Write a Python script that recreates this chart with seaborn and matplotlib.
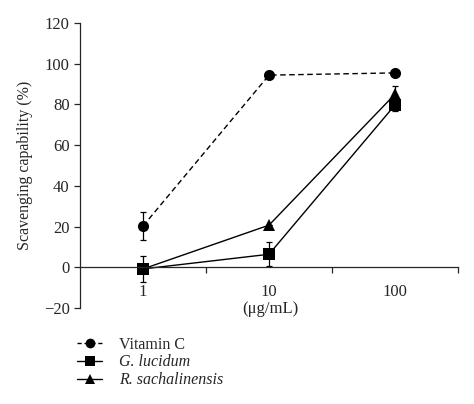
import matplotlib
matplotlib.use("Agg")
import matplotlib.pyplot as plt
import seaborn as sns
import pandas as pd
import numpy as np

concentrations = ["1", "10", "100"]
vitc = [20.3, 94.4, 95.5]
vitc_err = [7.0, 0.0, 0.0]
glu = [-0.8, 6.4, 79.7]
glu_err = [6.2, 6.0, 3.0]
rsa = [-0.8, 20.7, 85.0]
rsa_err = [0.0, 0.0, 4.0]
series_names = ["Vitamin C", "G. lucidum", "R. sachalinensis"]

sns.set_style("ticks")
plt.rcParams['font.family'] = ['Liberation Serif', 'DejaVu Serif']

fig = plt.figure(figsize=(4.74, 4.04), dpi=100)
ax = fig.add_axes([0.169, 0.2376, 0.797, 0.7054])

rows = []
for name, vals, errs in zip(series_names, [vitc, glu, rsa], [vitc_err, glu_err, rsa_err]):
    for i, (v, e) in enumerate(zip(vals, errs)):
        rows.append({"pos": i, "value": v, "err": e, "series": name})
df = pd.DataFrame(rows)

markers = {"Vitamin C": "o", "G. lucidum": "s", "R. sachalinensis": "^"}
dashes = {"Vitamin C": (4, 2.5), "G. lucidum": "", "R. sachalinensis": ""}
sns.lineplot(data=df, x="pos", y="value", hue="series", style="series",
             markers=markers, dashes=dashes, palette=["black"] * 3,
             markersize=8, linewidth=1.0, markeredgewidth=0, ax=ax, legend=False)
for name in series_names:
    d = df[df.series == name]
    ax.errorbar(d.pos, d.value, yerr=d.err, fmt="none", ecolor="black",
                elinewidth=0.9, capsize=2.5, capthick=0.9, zorder=1)

ax.set_xlim(-0.5, 2.5)
ax.set_ylim(-20, 120)
ax.set_yticks(np.arange(-20, 121, 20))
ax.set_yticklabels(["\u221220"] + [str(v) for v in range(0, 121, 20)])
ax.set_xticks([0, 1, 2])
ax.set_xticklabels(concentrations)
ax.set_xticks([0.5, 1.5, 2.5], minor=True)
ax.tick_params(axis="x", which="major", length=0, pad=12, labelsize=12)
ax.tick_params(axis="x", which="minor", length=4, width=0.9, direction="out")
ax.tick_params(axis="y", length=4, width=0.9, labelsize=12)
for s in ["top", "right"]:
    ax.spines[s].set_visible(False)
ax.spines["bottom"].set_position(("data", 0))
ax.spines["left"].set_linewidth(0.9)
ax.spines["bottom"].set_linewidth(0.9)
ax.set_ylabel("Scavenging capability (%)", fontsize=11.5, labelpad=8)
ax.set_xlabel("")
fig.text(0.57, 0.236, "(\u03bcg/mL)", ha="center", va="center", fontsize=12)

from matplotlib.lines import Line2D
handles = [Line2D([], [], color="black", marker=markers[n], markersize=7,
                  linewidth=1.0, markeredgewidth=0,
                  linestyle=(0, (3, 2)) if n == "Vitamin C" else "-") for n in series_names]
leg = fig.legend(handles, series_names, loc="upper left", bbox_to_anchor=(0.162, 0.167),
                 frameon=False, fontsize=11.5, handlelength=1.6, labelspacing=0.12,
                 handletextpad=1.05, borderaxespad=0, borderpad=0)
for t in leg.get_texts()[1:]:
    t.set_fontstyle("italic")

fig.savefig("out.png", dpi=100)
